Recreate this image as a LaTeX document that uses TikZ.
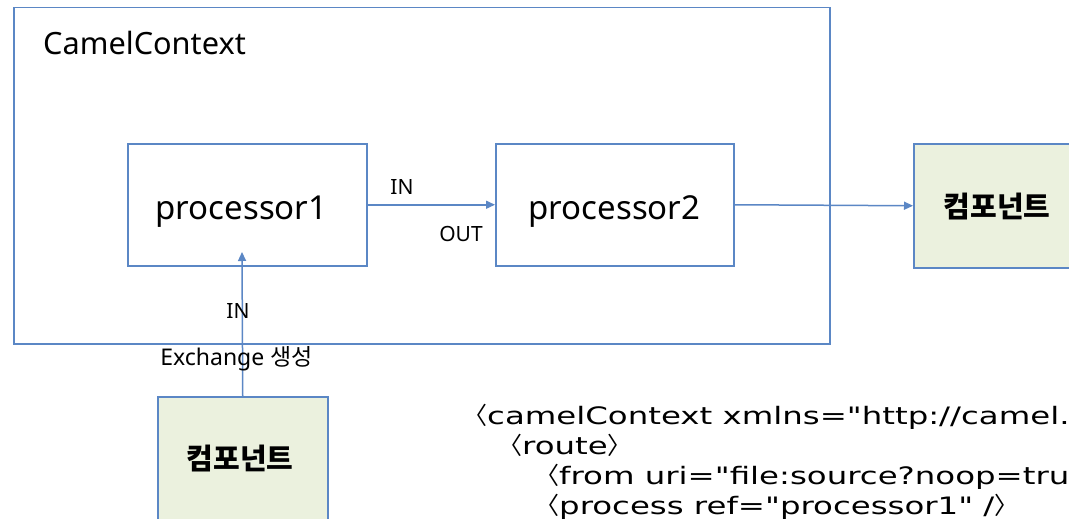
\documentclass[tikz,border=0pt]{standalone}
\usepackage{fontspec}
\setmainfont{Noto Sans}
\newfontfamily\krfont{Noto Sans CJK KR}
\newfontfamily\codefont[FakeStretch=1.35]{DejaVu Sans}
\usetikzlibrary{arrows.meta}
\definecolor{edgeblue}{HTML}{5B87C5}
\definecolor{compfill}{HTML}{EBF1DE}
\newcommand\lbk{{\krfont 〈}}
\newcommand\rbk{{\krfont 〉}}
\begin{document}
\begin{tikzpicture}[x=1pt,y=-1pt,
  frame/.style={draw=edgeblue, line width=1.5pt, inner sep=0pt, anchor=north west},
  compbox/.style={frame, fill=compfill},
  flow/.style={draw=edgeblue, line width=1.5pt, -{Triangle[length=9pt,width=8pt]}},
  lbl/.style={anchor=base, inner sep=0pt, text=black},
  big/.style={lbl, font=\fontsize{33}{36}\selectfont},
  small/.style={lbl, font=\fontsize{21}{24}\selectfont},
  kor/.style={lbl, font=\krfont\bfseries\fontsize{29}{32}\selectfont}
]
\useasboundingbox (0,0) rectangle (1069,519);
\clip (0,0) rectangle (1069,519);
\fill[white] (0,0) rectangle (1069,519);

\node[frame, minimum width=816pt, minimum height=336pt] (ctx) at (13,7) {};
\node[anchor=base west, inner sep=0pt, font=\fontsize{30.7}{34}\selectfont] (ctxt) at (43,55) {CamelContext};

\node[frame, minimum width=239pt, minimum height=122pt] (p1) at (127,143) {};
\node[big] (p1t) at (241.5,219) {processor1};
\node[frame, minimum width=238pt, minimum height=122pt] (p2) at (495,143) {};
\node[big] (p2t) at (614.5,219) {processor2};

\node[compbox, minimum width=168pt, minimum height=124pt] (c1) at (913,143) {};
\node[kor] (c1t) at (997,217) {컴포넌트};
\node[compbox, minimum width=170pt, minimum height=124pt] (c2) at (157,396) {};
\node[kor] (c2t) at (240,469) {컴포넌트};

\coordinate (tip) at (242,252);
\draw[flow] (p1.east) -- (p2.west);
\draw[flow] (p2.east) -- (c1.west);
\draw[flow] (c2.north) -- (tip);

\node[small] (in1) at (402,194) {IN};
\node[small] (out1) at (461,241) {OUT};
\node[small] (in2) at (238,318) {IN};
\node[lbl, font=\fontsize{23}{26}\selectfont] (exch) at (236.5,365) {Exchange {\krfont 생성}};

\node[anchor=north west, inner sep=0pt, align=left, font=\codefont\fontsize{24}{30}\selectfont] (xml) at (463,404)
{\lbk camelContext xmlns="http://camel.\\
\hspace*{35pt}\lbk route\rbk\\
\hspace*{72pt}\lbk from uri="file:source?noop=true\\
\hspace*{72pt}\lbk process ref="processor1" /\rbk};
\end{tikzpicture}
\end{document}
